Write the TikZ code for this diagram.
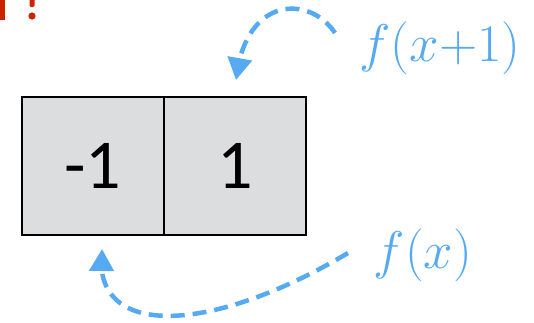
\RequirePackage{fix-cm}
\documentclass[tikz,border=0pt]{standalone}
\usepackage{fontspec}
\newfontfamily\cellfont{Carlito}
\usepackage{tikz}
\usetikzlibrary{arrows.meta, bending, positioning}
\definecolor{skyblue}{HTML}{55AAF2}
\definecolor{cellgray}{HTML}{DCDDDF}
\definecolor{warnred}{HTML}{CC2200}
\tikzset{
    cell/.style={rectangle, draw=black, line width=2pt, fill=cellgray, minimum width=142pt, minimum height=138pt, inner sep=0pt, outer sep=0pt, font=\cellfont\fontsize{70}{70}\selectfont},
    flabel/.style={text=skyblue, inner sep=0pt, font=\fontsize{53}{53}\selectfont},
    hop/.style={draw=skyblue, line width=4.5pt, dash pattern=on 14pt off 8pt, -{Triangle[length=22pt,width=24pt,flex]}}
}

\begin{document}
\begin{tikzpicture}[x=1pt, y=-1pt]
        \useasboundingbox (0,0) rectangle (534,322);

        % clipped red marks at the corner
        \fill[warnred] (0,0) rectangle (5,20);
        \fill[warnred, rounded corners=1.5pt] (29.5,-3) rectangle (34.5,7);
        \fill[warnred] (32,16) circle (3.6);

        % the two cells
        \node[cell] (cellA) at (93,166) {-1};
        \node[cell, right=0pt of cellA] (cellB) {1};

        % labels
        \node[flabel] (lblTop) at (440,48) {$f(x{+}1)$};
        \node[flabel] (lblBot) at (423,255) {$f(x)$};

        % ends of the arrows
        \coordinate (topStart) at (335,33);
        \coordinate (topEnd) at (236,80);
        \coordinate (botStart) at (348,253);
        \coordinate (botEnd) at (102,249);

        % arrows
        \draw[hop] (topStart) .. controls (310,-5) and (245,-5) .. (topEnd);
        \draw[hop] (botStart) .. controls (210,335) and (90,340) .. (botEnd);
\end{tikzpicture}
\end{document}
